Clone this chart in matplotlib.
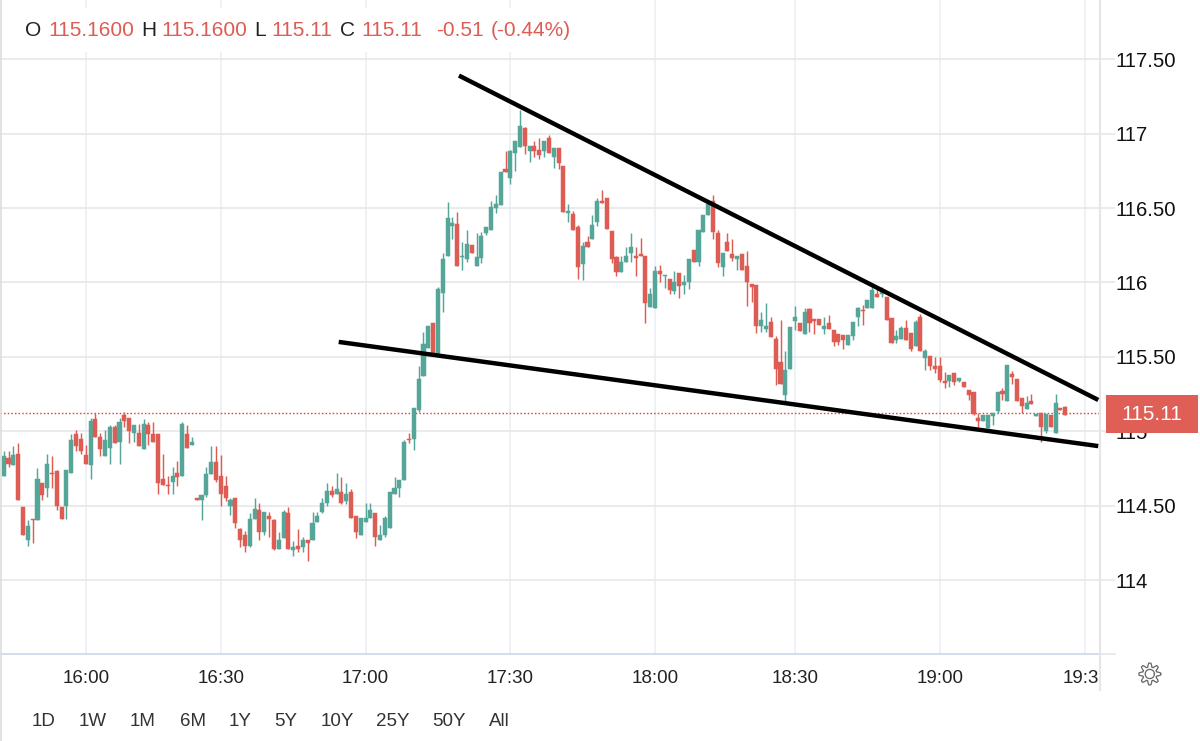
import numpy as np
import matplotlib
matplotlib.use("Agg")
import matplotlib.pyplot as plt
from matplotlib.patches import Rectangle
from matplotlib.lines import Line2D
from matplotlib.transforms import ScaledTranslation

plt.rcParams['font.family'] = ['Liberation Sans', 'DejaVu Sans']

opens = [
114.70,114.82,114.77,114.85,114.49,114.27,114.41,114.40,114.65,114.62,
114.72,114.73,114.49,114.50,114.72,114.98,114.95,114.84,114.77,115.08,
114.96,114.83,114.89,115.03,114.93,115.11,115.09,114.99,114.99,114.88,
115.04,114.98,114.98,114.68,114.64,114.66,114.72,114.70,114.98,114.91,
114.55,114.54,114.57,114.71,114.79,114.70,114.63,114.50,114.55,114.34,
114.30,114.23,114.41,114.47,114.32,114.43,114.40,114.21,114.28,114.45,
114.20,114.23,114.22,114.27,114.27,114.39,114.46,114.52,114.60,114.58,
114.59,114.53,114.59,114.43,114.30,114.39,114.42,114.45,114.27,114.30,
114.35,114.58,114.62,114.67,114.95,114.95,115.14,115.37,115.56,115.73,
115.51,115.93,116.18,116.38,116.39,116.17,116.16,116.25,116.11,116.165,
116.33,116.35,116.50,116.52,116.765,116.70,116.87,116.91,117.04,116.88,
116.915,116.89,116.88,116.97,116.84,116.905,116.78,116.465,116.46,116.37,
116.125,116.27,116.295,116.405,116.55,116.57,116.345,116.17,116.07,116.135,
116.195,116.175,116.19,116.175,115.835,115.83,116.075,116.04,116.02,115.94,
116.06,115.98,116.0,116.215,116.14,116.34,116.45,116.55,116.335,116.105,
116.27,116.19,116.16,116.19,116.11,115.99,115.98,115.71,115.685,115.735,
115.62,115.465,115.245,115.415,115.74,115.725,115.65,115.82,115.755,115.755,
115.685,115.725,115.68,115.65,115.645,115.58,115.64,115.77,115.815,115.825,
115.825,115.925,115.925,115.90,115.76,115.615,115.62,115.695,115.66,115.57,
115.77,115.49,115.505,115.435,115.435,115.335,115.335,115.39,115.34,115.33,
115.275,115.265,115.09,115.07,115.02,115.105,115.135,115.27,115.20,115.385,
115.35,115.22,115.15,115.20,115.10,115.12,115.0,115.11,114.99,115.155,
115.16]
highs = [
114.87,114.87,114.90,114.92,114.49,114.40,114.41,114.75,114.65,114.85,
114.83,114.74,114.49,114.74,114.98,115.01,114.99,114.91,115.09,115.12,
114.99,115.01,115.04,115.04,115.09,115.13,115.09,115.04,115.05,115.08,
115.06,115.06,114.98,114.85,114.70,114.76,114.80,115.06,115.04,114.96,
114.55,114.57,114.76,114.90,114.90,114.84,114.70,114.55,114.55,114.35,
114.33,114.45,114.55,114.52,114.46,114.46,114.41,114.32,114.47,114.49,
114.26,114.34,114.29,114.27,114.46,114.46,114.55,114.65,114.63,114.72,
114.69,114.65,114.61,114.43,114.42,114.52,114.52,114.45,114.37,114.43,
114.59,114.69,114.67,114.94,114.985,115.155,115.44,115.67,115.71,115.73,
115.97,116.20,116.54,116.44,116.47,116.27,116.35,116.25,116.335,116.34,
116.37,116.55,116.59,116.74,116.88,116.89,116.95,117.16,117.045,116.92,
116.95,116.97,116.95,116.99,116.905,116.905,116.78,116.53,116.48,116.385,
116.27,116.315,116.45,116.57,116.62,116.57,116.345,116.18,116.18,116.24,
116.335,116.235,116.30,116.175,115.965,116.11,116.12,116.05,116.02,116.075,
116.06,116.05,116.16,116.215,116.35,116.45,116.55,116.59,116.35,116.20,
116.335,116.29,116.18,116.19,116.21,115.99,115.98,115.80,115.86,115.765,
115.64,115.75,115.54,115.70,115.84,115.725,115.83,115.83,115.755,115.755,
115.77,115.78,115.68,115.65,115.645,115.645,115.735,115.835,115.85,115.885,
115.97,115.97,115.97,115.90,115.76,115.68,115.71,115.75,115.66,115.75,
115.79,115.555,115.505,115.50,115.50,115.40,115.375,115.39,115.355,115.33,
115.275,115.265,115.12,115.11,115.11,115.12,115.265,115.29,115.445,115.405,
115.35,115.22,115.235,115.25,115.115,115.12,115.115,115.11,115.25,115.155,
115.167]
lows = [
114.70,114.76,114.77,114.54,114.30,114.23,114.25,114.40,114.54,114.56,
114.62,114.47,114.41,114.41,114.72,114.87,114.85,114.78,114.68,114.96,
114.83,114.83,114.78,114.92,114.78,115.03,114.92,114.93,114.90,114.88,
114.91,114.93,114.58,114.64,114.58,114.58,114.63,114.70,114.89,114.91,
114.54,114.40,114.56,114.71,114.66,114.50,114.53,114.44,114.35,114.22,
114.19,114.22,114.41,114.27,114.30,114.29,114.20,114.21,114.28,114.21,
114.16,114.19,114.19,114.13,114.27,114.39,114.45,114.50,114.56,114.58,
114.51,114.51,114.42,114.28,114.30,114.39,114.42,114.23,114.27,114.29,
114.35,114.58,114.56,114.67,114.92,114.875,115.13,115.37,115.56,115.51,
115.51,115.80,116.18,116.29,116.11,116.08,116.14,116.20,116.11,116.13,
116.32,116.35,116.465,116.52,116.74,116.66,116.75,116.91,116.865,116.81,
116.84,116.83,116.84,116.87,116.77,116.76,116.47,116.405,116.35,116.02,
116.015,116.24,116.295,116.38,116.535,116.36,116.13,116.045,116.07,116.135,
116.135,116.045,116.18,115.73,115.835,115.83,116.0,115.965,115.92,115.92,
115.895,115.92,115.955,116.14,116.11,116.34,116.45,116.29,116.105,116.045,
116.21,116.145,116.08,116.08,115.84,115.87,115.66,115.67,115.67,115.63,
115.31,115.32,115.20,115.415,115.68,115.675,115.65,115.67,115.65,115.715,
115.65,115.685,115.57,115.58,115.555,115.58,115.615,115.71,115.715,115.825,
115.825,115.90,115.90,115.75,115.59,115.59,115.62,115.61,115.54,115.57,
115.54,115.41,115.41,115.39,115.33,115.29,115.30,115.31,115.33,115.30,
115.21,115.11,115.03,115.07,115.015,115.04,115.125,115.21,115.20,115.32,
115.20,115.125,115.15,115.185,115.10,114.925,114.99,115.03,114.99,115.14,
115.11]
closes = [
114.83,114.78,114.84,114.54,114.30,114.36,114.40,114.68,114.57,114.78,
114.71,114.50,114.41,114.74,114.94,114.90,114.87,114.78,115.07,114.96,
114.88,114.94,115.03,114.92,115.06,115.07,115.00,115.04,114.90,115.05,
114.98,114.93,114.65,114.64,114.63,114.70,114.69,115.05,114.89,114.93,
114.54,114.57,114.71,114.79,114.67,114.58,114.55,114.54,114.38,114.27,
114.23,114.41,114.48,114.32,114.46,114.41,114.21,114.27,114.46,114.21,
114.22,114.21,114.27,114.25,114.38,114.43,114.52,114.60,114.57,114.61,
114.52,114.58,114.42,114.32,114.42,114.42,114.47,114.29,114.30,114.42,
114.59,114.62,114.67,114.93,114.94,115.155,115.35,115.585,115.71,115.52,
115.955,116.16,116.43,116.40,116.11,116.18,116.26,116.20,116.17,116.31,
116.37,116.51,116.53,116.74,116.74,116.88,116.95,117.05,116.92,116.92,
116.88,116.855,116.95,116.87,116.905,116.80,116.47,116.48,116.35,116.105,
116.245,116.24,116.385,116.55,116.535,116.36,116.155,116.07,116.14,116.18,
116.235,116.165,116.18,115.86,115.92,116.075,116.055,116.05,115.95,116.005,
115.975,116.0,116.16,116.14,116.35,116.45,116.53,116.34,116.13,116.20,
116.21,116.165,116.18,116.08,116.0,115.97,115.71,115.75,115.71,115.63,
115.415,115.32,115.41,115.70,115.77,115.675,115.80,115.73,115.74,115.715,
115.71,115.685,115.60,115.60,115.61,115.645,115.735,115.825,115.805,115.885,
115.95,115.90,115.94,115.75,115.59,115.64,115.695,115.61,115.55,115.735,
115.54,115.54,115.44,115.415,115.345,115.325,115.375,115.33,115.355,115.30,
115.24,115.115,115.07,115.11,115.11,115.12,115.265,115.25,115.445,115.365,
115.20,115.17,115.19,115.185,115.115,115.03,115.115,115.03,115.19,115.14,
115.11]

time_labels = ["16:00", "16:30", "17:00", "17:30", "18:00", "18:30", "19:00", "19:3"]
time_index = [17, 45, 75, 105, 135, 164, 194, 224]
price_ticks = [114, 114.5, 115, 115.5, 116, 116.5, 117, 117.5]
price_labels = ["114", "114.50", "115", "115.50", "116", "116.50", "117", "117.50"]
last_price_line = 115.12
upper_trend = ([94.35, 226.85], [117.39, 115.21])
lower_trend = ([69.43, 226.85], [115.60, 114.90])
range_buttons = ["1D", "1W", "1M", "6M", "1Y", "5Y", "10Y", "25Y", "50Y", "All"]
header = [("O", 0), ("115.1600", 1), ("H", 0), ("115.1600", 1), ("L", 0), ("115.11", 1),
          ("C", 0), ("115.11", 1), ("-0.51", 1), ("(-0.44%)", 1)]

W, H = 1200, 741
RED = "#dd5c54"
GREEN = "#55a699"
GRID = "#e6e6e6"
VGRID = "#e8eff4"
DARK = "#222222"

def fx(x): return x / W
def fy(y): return 1 - y / H

fig = plt.figure(figsize=(W / 100, H / 100), dpi=100, facecolor="white")
ax = fig.add_axes([0, fy(654), fx(1100), 654 / H])
step = 4.825
ax.set_xlim(-3.7 / step, (1100 - 3.7) / step)
ax.set_ylim(114 + (580 - 654) / 148.8, 114 + 580 / 148.8)
ax.set_facecolor("white")
for s in ("top", "left"):
    ax.spines[s].set_visible(False)
ax.spines["right"].set_color(GRID)
ax.spines["right"].set_linewidth(1.5)
ax.spines["bottom"].set_color("#ccd6eb")
ax.spines["bottom"].set_linewidth(1.2)

ax.yaxis.tick_right()
ax.set_yticks(price_ticks, price_labels, fontsize=14.6, color="#111111")
ax.tick_params(axis="y", length=11, width=1.1, color=GRID, pad=0.3)
ax.set_xticks(time_index, time_labels, fontsize=13.5, color="#222222")
ax.tick_params(axis="x", length=0, pad=11.5)
ax.grid(True, axis="y", color=GRID, lw=1.1, zorder=0)
ax.grid(True, axis="x", color=VGRID, lw=1.1, zorder=0)
ax.set_axisbelow(True)
lab = ax.get_xticklabels()[-1]
lab.set_transform(lab.get_transform() + ScaledTranslation(-4 / 100, 0, fig.dpi_scale_trans))

o, h, l, c = map(np.array, (opens, highs, lows, closes))
idx = np.arange(len(o))
cols = np.where(c < o, RED, GREEN)
ax.axhline(last_price_line, color="#dc4440", lw=1.0, ls=(0, (1.1, 1.5)), zorder=1.5)
ax.vlines(idx, l, h, colors=cols, lw=1.05, zorder=2)
ax.bar(idx, np.maximum(np.abs(c - o), 0.006), bottom=np.minimum(o, c), width=0.84,
       color=cols, edgecolor=cols, lw=0.35, zorder=3)
ax.plot(*upper_trend, color="black", lw=3.2, solid_capstyle="butt", zorder=4)
ax.plot(*lower_trend, color="black", lw=3.2, solid_capstyle="butt", zorder=4)

# left edge and right axis continuation
fig.add_artist(Line2D([fx(0.7), fx(0.7)], [0, 1], color="#dddddd", lw=1.2))
fig.add_artist(Line2D([fx(1100), fx(1100)], [fy(654), fy(690)], color=GRID, lw=1.5))
fig.add_artist(Line2D([fx(1100), fx(1115)], [fy(654), fy(654)], color=GRID, lw=1.2))

# header
fig.add_artist(Rectangle((fx(20), fy(52)), fx(560), 44 / H, transform=fig.transFigure,
                         facecolor="white", edgecolor="none", zorder=3))
hx = [25, 48.5, 141, 161.5, 254.5, 271.5, 340, 361, 436, 491]
for (t, red), x in zip(header, hx):
    fig.text(fx(x), fy(30), t, fontsize=15, va="center", ha="left",
             color=RED if red else DARK, zorder=4)

# last-price tag
fig.add_artist(Rectangle((fx(1106), fy(432.5)), 92 / W, 37.5 / H, transform=fig.transFigure,
                         facecolor="#df5e56", edgecolor="none", zorder=5))
fig.text(fx(1152), fy(414), "115.11", fontsize=15, color="white", ha="center", va="center", zorder=6)

# range selector
rx = [44, 93, 143, 192.5, 240, 286, 337, 393, 449, 499]
for t, x in zip(range_buttons, rx):
    fig.text(fx(x), fy(721), t, fontsize=13.5, color="#333333", ha="center", va="center")

# settings gear
cx, cy, teeth = 1149.8, 674, 8
ang = np.linspace(0, 2 * np.pi, teeth * 8 + 1)
rad = 9 + 1.9 * np.clip(2.2 * np.cos(teeth * ang), -1, 1)
gx, gy = cx + rad * np.cos(ang), cy + rad * np.sin(ang)
fig.add_artist(Line2D(fx(gx), fy(gy), color="#666666", lw=0.9))
ang2 = np.linspace(0, 2 * np.pi, 40)
fig.add_artist(Line2D(fx(cx + 4.6 * np.cos(ang2)), fy(cy + 4.6 * np.sin(ang2)), color="#666666", lw=0.9))

fig.savefig("out.png", dpi=100)
